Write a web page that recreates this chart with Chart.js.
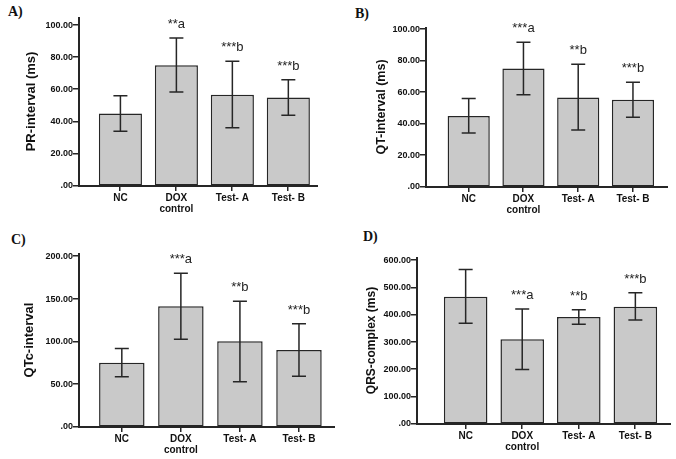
<!DOCTYPE html>
<html>
<head>
<meta charset="utf-8">
<script src="https://cdn.jsdelivr.net/npm/chart.js@4.4.1/dist/chart.umd.min.js"></script>
<style>
  body { margin: 0; background: #fff; }
  #lienzo { position: relative; width: 676px; height: 459px; overflow: hidden; }
  canvas { position: absolute; }
  .letra { position: absolute; font: bold 14px 'Liberation Serif', 'DejaVu Serif', serif; color: #111; }
</style>
</head>
<body>
<div id="lienzo">
  <div class="letra" style="left:8px;top:4px">A)</div>
  <div class="letra" style="left:355px;top:6px">B)</div>
  <div class="letra" style="left:11px;top:232px">C)</div>
  <div class="letra" style="left:363px;top:229px">D)</div>
  <canvas id="graficoA" width="338" height="229" style="left:0;top:0"></canvas>
  <canvas id="graficoB" width="338" height="229" style="left:338px;top:0"></canvas>
  <canvas id="graficoC" width="338" height="230" style="left:0;top:229px"></canvas>
  <canvas id="graficoD" width="338" height="230" style="left:338px;top:229px"></canvas>
</div>
<script>
// categorias comunes a los cuatro paneles
const grupos = ['NC', ['DOX', 'control'], 'Test- A', 'Test- B'];

// A) PR-interval
const mediaPR = [45, 75, 56.7, 55];
const altoPR = [56, 92, 77.5, 66];
const bajoPR = [34, 58.4, 36.2, 44];
const signosPR = ['', '**a', '***b', '***b'];
const ticksPR = [0, 20, 40, 60, 80, 100];

// B) QT-interval
const mediaQT = [45.1, 75.2, 56.8, 55.3];
const altoQT = [56.1, 91.9, 77.8, 66.5];
const bajoQT = [34.3, 58.5, 36.2, 44.3];
const signosQT = ['', '***a', '**b', '***b'];
const ticksQT = [0, 20, 40, 60, 80, 100];

// C) QTc-interval
const mediaQTc = [75.3, 141.6, 100.4, 90.2];
const altoQTc = [92, 180.4, 147.5, 121];
const bajoQTc = [58.8, 103, 53, 59.6];
const signosQTc = ['', '***a', '**b', '***b'];
const ticksQTc = [0, 50, 100, 150, 200];

// D) QRS-complex
const mediaQRS = [466.5, 311, 392, 430];
const altoQRS = [566, 421, 419, 481];
const bajoQRS = [369, 200, 366, 381];
const signosQRS = ['', '***a', '**b', '***b'];
const ticksQRS = [0, 100, 200, 300, 400, 500, 600];

const colorLinea = '#262626';

// ejes con marcas hacia fuera, barras de error y asteriscos
const pluginErrores = {
  id: 'errores',
  afterDraw(chart) {
    const ctx = chart.ctx;
    const x = chart.scales.x;
    const y = chart.scales.y;
    const izq = Math.round(x.left);
    const abajo = Math.round(y.bottom);
    ctx.save();
    ctx.fillStyle = colorLinea;
    // eje Y y eje X
    ctx.fillRect(izq - 1, Math.round(y.top), 2, abajo - Math.round(y.top) + 1);
    ctx.fillRect(izq - 1, abajo - 1, Math.round(x.right) - izq + 1, 2);
    y.ticks.forEach(t => {
      const py = Math.round(y.getPixelForValue(t.value));
      ctx.fillRect(izq - 6, py - 1, 6, 1.5);
    });
    x.ticks.forEach(t => {
      const px = Math.round(x.getPixelForValue(t.value));
      ctx.fillRect(px - 1, abajo, 1.5, 5);
    });
    ctx.restore();
  },
  afterDatasetsDraw(chart) {
    const cfg = chart.options.plugins.errores;
    const ctx = chart.ctx;
    const y = chart.scales.y;
    const meta = chart.getDatasetMeta(0);
    ctx.save();
    ctx.strokeStyle = colorLinea;
    ctx.lineWidth = 1.5;
    meta.data.forEach((barra, i) => {
      const x = barra.x;
      const yAlto = y.getPixelForValue(cfg.alto[i]);
      const yBajo = y.getPixelForValue(cfg.bajo[i]);
      ctx.beginPath();
      ctx.moveTo(x, yAlto); ctx.lineTo(x, yBajo);
      ctx.moveTo(x - 7, yAlto); ctx.lineTo(x + 7, yAlto);
      ctx.moveTo(x - 7, yBajo); ctx.lineTo(x + 7, yBajo);
      ctx.stroke();
      if (cfg.signos[i]) {
        ctx.fillStyle = '#222';
        ctx.font = "13px 'Liberation Sans', Arial, sans-serif";
        ctx.textAlign = 'center';
        ctx.textBaseline = 'alphabetic';
        ctx.fillText(cfg.signos[i], x, yAlto - 10);
      }
    });
    ctx.restore();
  }
};

function etiquetaY(v) {
  return v === 0 ? '.00' : v.toFixed(2);
}

function graficoBarras(id, opciones) {
  const ctx = document.getElementById(id).getContext('2d');
  return new Chart(ctx, {
    type: 'bar',
    data: {
      datasets: [{
        data: opciones.media.map((v, i) => ({ x: i, y: v })),
        backgroundColor: '#c9c9c9',
        borderColor: colorLinea,
        borderWidth: 1.5,
        borderSkipped: false,
        barPercentage: 0.77,
        categoryPercentage: 1
      }]
    },
    options: {
      responsive: false,
      animation: false,
      devicePixelRatio: 1,
      layout: { padding: { left: 0, top: opciones.arriba, right: opciones.derecha, bottom: 0 } },
      plugins: {
        legend: { display: false },
        tooltip: { enabled: false },
        errores: { alto: opciones.alto, bajo: opciones.bajo, signos: opciones.signos }
      },
      scales: {
        x: {
          type: 'linear',
          offset: false,
          min: opciones.xMin,
          max: opciones.xMax,
          afterBuildTicks: (scale) => { scale.ticks = grupos.map((g, i) => ({ value: i })); },
          afterFit: (scale) => { scale.height = opciones.altoEjeX; scale.paddingLeft = 0; scale.paddingRight = 0; },
          grid: { offset: false, drawOnChartArea: false, drawTicks: true, tickLength: 4, color: 'rgba(0,0,0,0)' },
          border: { display: false },
          ticks: {
            callback: (v) => grupos[v],
            maxRotation: 0,
            autoSkip: false,
            padding: 3,
            color: '#111',
            font: { family: "'Liberation Sans', Arial, sans-serif", size: 10, weight: 'bold', lineHeight: 1.1 }
          }
        },
        y: {
          min: 0,
          max: opciones.yMax,
          afterBuildTicks: (scale) => { scale.ticks = opciones.ticks.map(v => ({ value: v })); },
          afterFit: (scale) => { scale.width = opciones.anchoEjeY; },
          grid: { drawOnChartArea: false, drawTicks: true, tickLength: 5, color: 'rgba(0,0,0,0)' },
          border: { display: false },
          ticks: {
            callback: etiquetaY,
            padding: 1,
            color: '#111',
            font: { family: "'Liberation Sans', Arial, sans-serif", size: 9, weight: 'bold' }
          },
          title: {
            display: true,
            text: opciones.titulo,
            color: '#111',
            padding: { top: opciones.tituloX, bottom: 0 },
            font: { family: "'Liberation Sans', Arial, sans-serif", size: opciones.tamTitulo, weight: 'bold' }
          }
        }
      }
    },
    plugins: [pluginErrores]
  });
}

graficoBarras('graficoA', {
  media: mediaPR, alto: altoPR, bajo: bajoPR, signos: signosPR, ticks: ticksPR,
  yMax: 105, xMin: -0.74, xMax: 3.53, arriba: 17, derecha: 20,
  anchoEjeY: 79, altoEjeX: 43, titulo: 'PR-interval (ms)', tamTitulo: 13, tituloX: 24
});

graficoBarras('graficoB', {
  media: mediaQT, alto: altoQT, bajo: bajoQT, signos: signosQT, ticks: ticksQT,
  yMax: 101.5, xMin: -0.78, xMax: 3.64, arriba: 27, derecha: 8,
  anchoEjeY: 88, altoEjeX: 42, titulo: 'QT-interval (ms)', tamTitulo: 12.5, tituloX: 36
});

graficoBarras('graficoC', {
  media: mediaQTc, alto: altoQTc, bajo: bajoQTc, signos: signosQTc, ticks: ticksQTc,
  yMax: 204, xMin: -0.725, xMax: 3.61, arriba: 24, derecha: 3,
  anchoEjeY: 79, altoEjeX: 32, titulo: 'QTc-interval', tamTitulo: 13, tituloX: 22
});

graficoBarras('graficoD', {
  media: mediaQRS, alto: altoQRS, bajo: bajoQRS, signos: signosQRS, ticks: ticksQRS,
  yMax: 612, xMin: -0.86, xMax: 3.63, arriba: 28, derecha: 5,
  anchoEjeY: 79, altoEjeX: 35, titulo: 'QRS-complex (ms)', tamTitulo: 12, tituloX: 26
});
</script>
</body>
</html>
